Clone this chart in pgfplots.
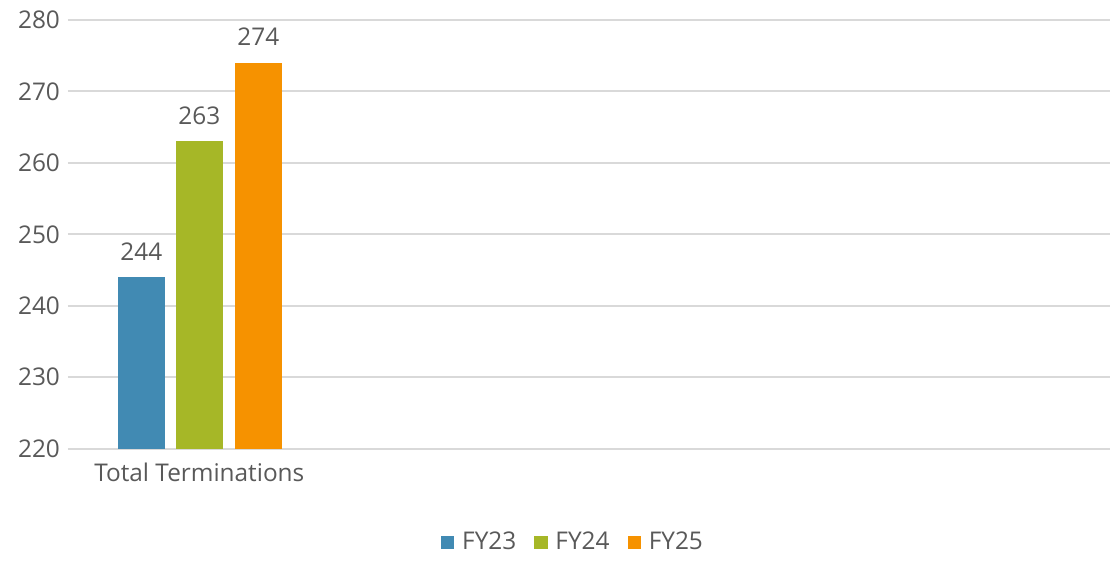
\documentclass[border=0pt]{standalone}
\usepackage{fontspec}
\setmainfont{Open Sans}
\usepackage{pgfplots}
\pgfplotsset{compat=1.18}
\definecolor{cA}{HTML}{418AB3}
\definecolor{cB}{HTML}{A6B727}
\definecolor{cC}{HTML}{F69200}
\definecolor{txt}{HTML}{595959}
\definecolor{grd}{HTML}{D9D9D9}
\begin{document}
\begin{tikzpicture}
\begin{axis}[
  at={(0,0)}, anchor=origin,
  scale only axis, width=521.5pt, height=214.5pt,
  xmin=0, xmax=4, ymin=220, ymax=280,
  ytick={220,230,...,280},
  xtick={0.5043}, xticklabels={Total Terminations},
  axis line style={draw=none},
  major tick length=0pt,
  ymajorgrids, grid style={grd, line width=1pt},
  tick label style={font=\fontsize{12.2}{14}\selectfont, text=txt},
  /pgf/number format/assume math mode=true,
  yticklabel style={xshift=-0.5pt},
  xticklabel style={yshift=-3.5pt},
  ybar, bar shift=0pt, bar width=0.18,
  nodes near coords,
  every node near coord/.append style={font=\fontsize{12.2}{14}\selectfont, text=txt, yshift=5pt},
  legend style={at={(0.4856,-0.219)}, anchor=center, draw=none, legend columns=-1,
    font=\fontsize{12.2}{14}\selectfont, text=txt,
    /tikz/every even column/.append style={column sep=7pt},
    /tikz/every odd column/.append style={column sep=2pt}},
  legend image code/.code={\fill[#1,draw=none] (0pt,-3.3pt) rectangle (6.6pt,3.3pt);},
  clip=false,
]
\addplot[fill=cA, draw=none] coordinates {(0.2819,244)};
\addplot[fill=cB, draw=none] coordinates {(0.5043,263)};
\addplot[fill=cC, draw=none] coordinates {(0.7306,274)};
\legend{FY23,FY24,FY25}
\end{axis}
\path[use as bounding box] (-34pt,-52.5pt) rectangle (521.5pt,224.5pt);
\end{tikzpicture}
\end{document}
